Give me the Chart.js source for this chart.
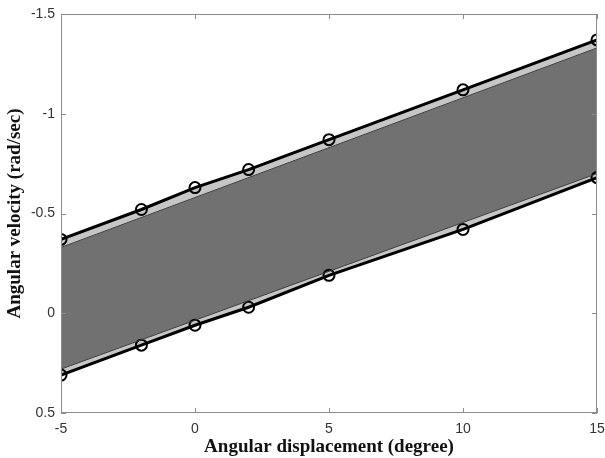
<!DOCTYPE html>
<html>
<head>
<meta charset="utf-8">
<script src="https://cdn.jsdelivr.net/npm/chart.js@4.4.1/dist/chart.umd.min.js"></script>
<style>
  html, body { margin: 0; padding: 0; background: #fff; }
  #wrap { width: 605px; height: 458px; }
</style>
</head>
<body>
<div id="wrap"><canvas id="chart" width="605" height="458"></canvas></div>
<script>
// angular displacement (degree)
let xValues = [-5, -2, 0, 2, 5, 10, 15];
// upper and lower bounding curves (rad/sec)
let upperValues = [-0.37, -0.52, -0.63, -0.72, -0.87, -1.12, -1.37];
let lowerValues = [0.31, 0.16, 0.06, -0.03, -0.19, -0.42, -0.68];
// inner edges of the dark band (straight lines, read at the ends)
let innerX = [-5, 15];
let upperInner = [-0.33, -1.33];
let lowerInner = [0.28, -0.70];

let xTicks = [-5, 0, 5, 10, 15];
let yTicks = [-1.5, -1, -0.5, 0, 0.5];

function pts(xs, ys) {
    return xs.map((x, i) => ({ x: x, y: ys[i] }));
}

// box round the plot with small inward ticks on every side
const boxPlugin = {
    id: 'box',
    afterDatasetsDraw(chart) {
        const { ctx, chartArea: a, scales } = chart;
        ctx.save();
        ctx.strokeStyle = '#8c8c8c';
        ctx.lineWidth = 1;
        ctx.strokeRect(a.left + 0.5, a.top + 0.5, a.right - a.left - 1, a.bottom - a.top - 1);
        ctx.beginPath();
        xTicks.forEach(v => {
            let px = Math.round(scales.x.getPixelForValue(v)) + 0.5;
            ctx.moveTo(px, a.bottom); ctx.lineTo(px, a.bottom - 5);
            ctx.moveTo(px, a.top); ctx.lineTo(px, a.top + 5);
        });
        yTicks.forEach(v => {
            let py = Math.round(scales.y.getPixelForValue(v)) + 0.5;
            ctx.moveTo(a.left, py); ctx.lineTo(a.left + 5, py);
            ctx.moveTo(a.right, py); ctx.lineTo(a.right - 5, py);
        });
        ctx.stroke();
        ctx.restore();
    }
};

new Chart(document.getElementById('chart'), {
    type: 'line',
    data: {
        datasets: [
            {
                data: pts(xValues, upperValues),
                borderColor: '#000',
                borderWidth: 3,
                pointRadius: 5.5,
                pointBorderWidth: 2,
                pointBorderColor: '#000',
                pointBackgroundColor: 'rgba(0,0,0,0)',
                fill: false
            },
            {
                data: pts(innerX, upperInner),
                borderColor: '#3a3a3a',
                borderWidth: 1,
                pointRadius: 0,
                backgroundColor: '#c6c6c6',
                fill: { target: 0 }
            },
            {
                data: pts(innerX, lowerInner),
                borderColor: '#3a3a3a',
                borderWidth: 1,
                pointRadius: 0,
                backgroundColor: '#717171',
                fill: { target: 1 }
            },
            {
                data: pts(xValues, lowerValues),
                borderColor: '#000',
                borderWidth: 3,
                pointRadius: 5.5,
                pointBorderWidth: 2,
                pointBorderColor: '#000',
                pointBackgroundColor: 'rgba(0,0,0,0)',
                backgroundColor: '#c6c6c6',
                fill: { target: 2 }
            }
        ]
    },
    options: {
        responsive: false,
        animation: false,
        layout: { padding: { top: 14, right: 8, left: 0, bottom: 0 } },
        plugins: {
            legend: { display: false },
            tooltip: { enabled: false },
            filler: { drawTime: 'beforeDatasetsDraw' }
        },
        scales: {
            x: {
                type: 'linear',
                min: -5,
                max: 15,
                afterFit(s) { s.height = 45; s.paddingLeft = 0; s.paddingRight = 0; },
                afterBuildTicks(s) { s.ticks = xTicks.map(v => ({ value: v })); },
                grid: { display: false, drawTicks: false },
                border: { display: false },
                ticks: { color: '#333', font: { family: 'Liberation Sans', size: 14 }, padding: 8 },
                title: {
                    display: true,
                    text: 'Angular displacement (degree)',
                    color: '#111',
                    font: { family: 'Liberation Serif', size: 19, weight: 'bold' },
                    padding: { top: 0, bottom: 0 }
                }
            },
            y: {
                type: 'linear',
                reverse: true,
                min: -1.5,
                max: 0.5,
                afterFit(s) { s.width = 61; s.paddingTop = 0; s.paddingBottom = 0; },
                afterBuildTicks(s) { s.ticks = yTicks.map(v => ({ value: v })); },
                grid: { display: false, drawTicks: false },
                border: { display: false },
                ticks: {
                    color: '#333',
                    font: { family: 'Liberation Sans', size: 14 },
                    padding: 6,
                    callback: v => String(v)
                },
                title: {
                    display: true,
                    text: 'Angular velocity (rad/sec)',
                    color: '#111',
                    font: { family: 'Liberation Serif', size: 19, weight: 'bold' },
                    padding: { top: 4, bottom: 0 }
                }
            }
        }
    },
    plugins: [boxPlugin]
});
</script>
</body>
</html>
